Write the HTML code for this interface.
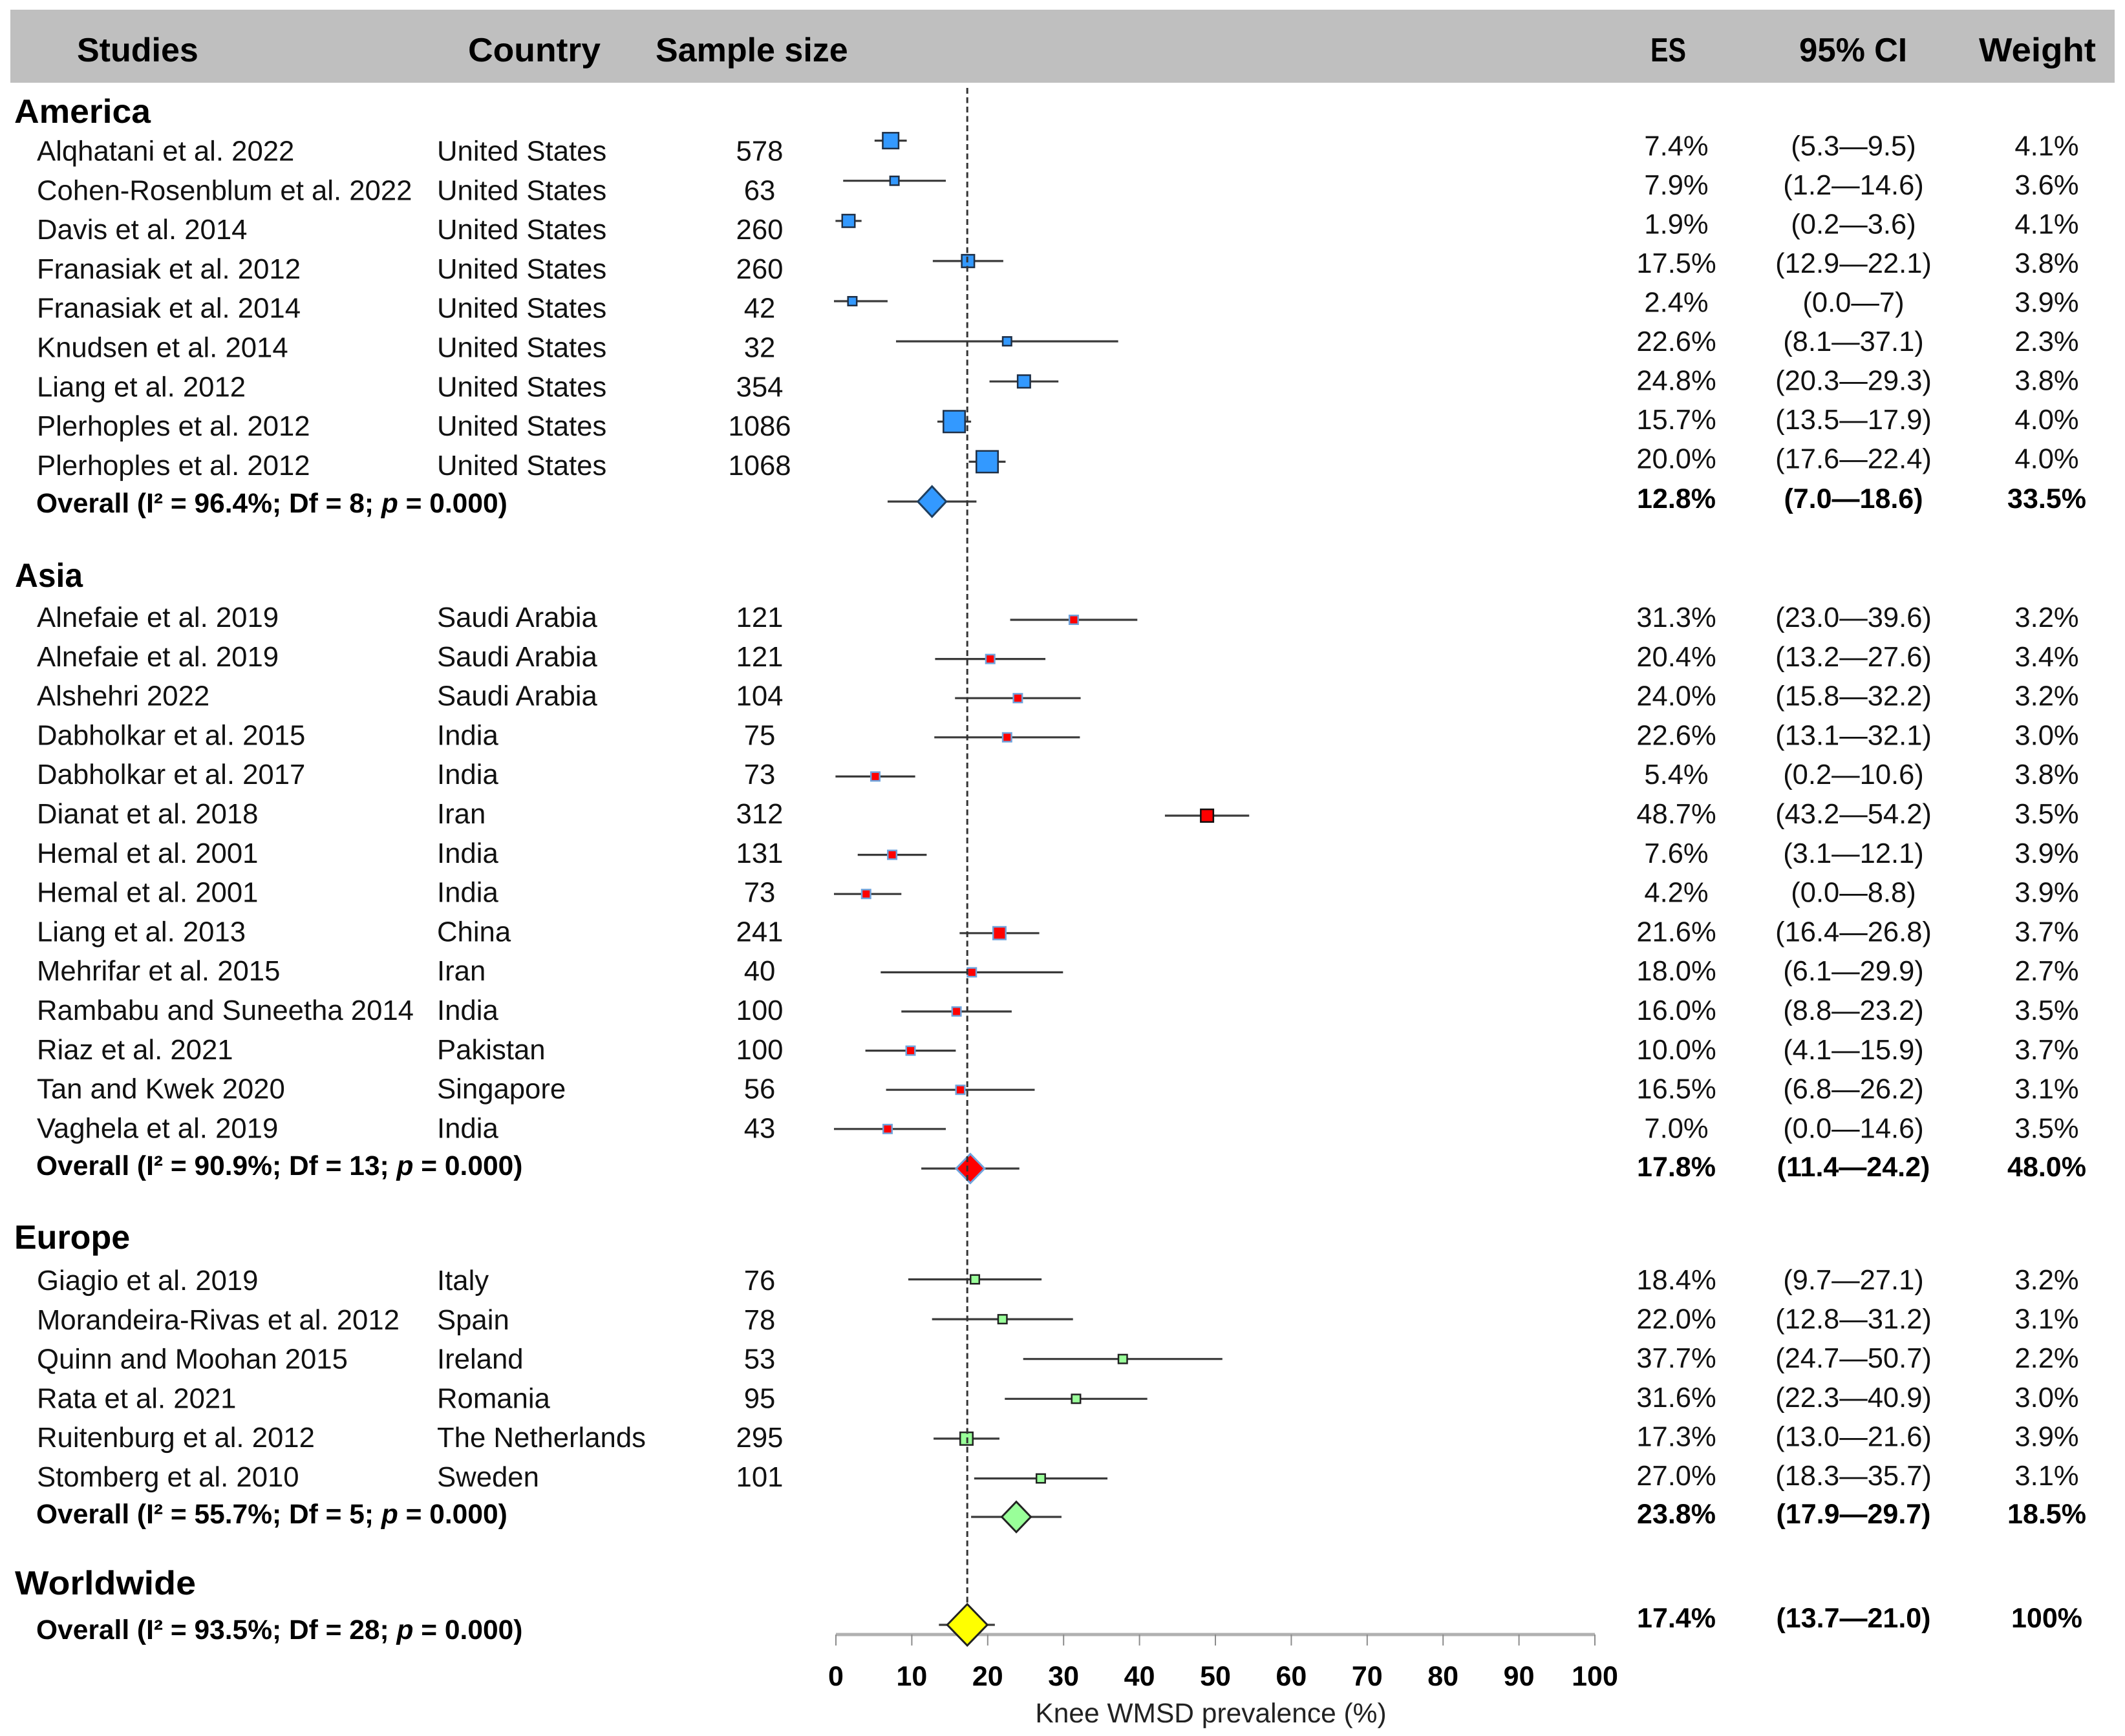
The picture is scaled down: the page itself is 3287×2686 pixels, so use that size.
<!DOCTYPE html>
<html lang="en">
<head>
<meta charset="utf-8">
<title>Knee WMSD prevalence forest plot</title>
<style>
  html, body { margin: 0; padding: 0; background: #fff; }
  svg { display: block; font-family: "Liberation Sans", sans-serif; fill: #111; text-rendering: geometricPrecision; }
  .hdr { font-size: 52px; font-weight: bold; fill: #000; }
  .region { font-size: 52px; font-weight: bold; fill: #000; }
  .body { font-size: 43.7px; fill: #111; }
  .right { font-size: 43.5px; fill: #111; text-anchor: middle; }
  .bold { font-size: 42.5px; font-weight: bold; fill: #000; }
  .bold-right { font-size: 43px; font-weight: bold; fill: #000; text-anchor: middle; }
  .mid { text-anchor: middle; }
  .tick-label { font-size: 43px; font-weight: bold; fill: #000; text-anchor: middle; }
  .axis-title { font-size: 42.5px; fill: #222; text-anchor: middle; }
</style>
</head>
<body>
<svg id="chart" xmlns="http://www.w3.org/2000/svg" width="3287" height="2686" viewBox="0 0 3287 2686">
  <rect x="16" y="15" width="3255" height="113" fill="#bfbfbf"/>
  <text class="hdr" x="119" y="95">Studies</text>
  <text class="hdr" x="724" y="95" textLength="205" lengthAdjust="spacingAndGlyphs">Country</text>
  <text class="hdr" x="1014" y="95">Sample size</text>
  <text class="hdr" x="2553" y="95" textLength="55" lengthAdjust="spacingAndGlyphs">ES</text>
  <text class="hdr" x="2783" y="95" textLength="167" lengthAdjust="spacingAndGlyphs">95% CI</text>
  <text class="hdr" x="3061" y="95" textLength="181" lengthAdjust="spacingAndGlyphs">Weight</text>
  <text class="region" x="22" y="190" textLength="211" lengthAdjust="spacingAndGlyphs">America</text>
  <text class="region" x="23" y="908" textLength="105" lengthAdjust="spacingAndGlyphs">Asia</text>
  <text class="region" x="22" y="1932">Europe</text>
  <text class="region" x="23" y="2467" textLength="280" lengthAdjust="spacingAndGlyphs">Worldwide</text>
  <text class="axis-title" x="1873" y="2665">Knee WMSD prevalence (%)</text>
  <g id="rows"></g>
  <g id="axis"></g>
  <g id="marks"></g>
</svg>
<script>
// ---- Data ----
const americaStudies = ["Alqhatani et al. 2022","Cohen-Rosenblum et al. 2022","Davis et al. 2014","Franasiak et al. 2012","Franasiak et al. 2014","Knudsen et al. 2014","Liang et al. 2012","Plerhoples et al. 2012","Plerhoples et al. 2012"];
const americaCountries = ["United States","United States","United States","United States","United States","United States","United States","United States","United States"];
const americaSamples = [578,63,260,260,42,32,354,1086,1068];
const americaES = [7.4,7.9,1.9,17.5,2.4,22.6,24.8,15.7,20.0];
const americaLow = [5.3,1.2,0.2,12.9,0.0,8.1,20.3,13.5,17.6];
const americaHigh = [9.5,14.6,3.6,22.1,7,37.1,29.3,17.9,22.4];
const americaWeights = [4.1,3.6,4.1,3.8,3.9,2.3,3.8,4.0,4.0];

const asiaStudies = ["Alnefaie et al. 2019","Alnefaie et al. 2019","Alshehri 2022","Dabholkar et al. 2015","Dabholkar et al. 2017","Dianat et al. 2018","Hemal et al. 2001","Hemal et al. 2001","Liang et al. 2013","Mehrifar et al. 2015","Rambabu and Suneetha 2014","Riaz et al. 2021","Tan and Kwek 2020","Vaghela et al. 2019"];
const asiaCountries = ["Saudi Arabia","Saudi Arabia","Saudi Arabia","India","India","Iran","India","India","China","Iran","India","Pakistan","Singapore","India"];
const asiaSamples = [121,121,104,75,73,312,131,73,241,40,100,100,56,43];
const asiaES = [31.3,20.4,24.0,22.6,5.4,48.7,7.6,4.2,21.6,18.0,16.0,10.0,16.5,7.0];
const asiaLow = [23.0,13.2,15.8,13.1,0.2,43.2,3.1,0.0,16.4,6.1,8.8,4.1,6.8,0.0];
const asiaHigh = [39.6,27.6,32.2,32.1,10.6,54.2,12.1,8.8,26.8,29.9,23.2,15.9,26.2,14.6];
const asiaWeights = [3.2,3.4,3.2,3.0,3.8,3.5,3.9,3.9,3.7,2.7,3.5,3.7,3.1,3.5];

const europeStudies = ["Giagio et al. 2019","Morandeira-Rivas et al. 2012","Quinn and Moohan 2015","Rata et al. 2021","Ruitenburg et al. 2012","Stomberg et al. 2010"];
const europeCountries = ["Italy","Spain","Ireland","Romania","The Netherlands","Sweden"];
const europeSamples = [76,78,53,95,295,101];
const europeES = [18.4,22.0,37.7,31.6,17.3,27.0];
const europeLow = [9.7,12.8,24.7,22.3,13.0,18.3];
const europeHigh = [27.1,31.2,50.7,40.9,21.6,35.7];
const europeWeights = [3.2,3.1,2.2,3.0,3.9,3.1];

const overallNames = ["america","asia","europe","worldwide"];
const overallI2 = [96.4,90.9,55.7,93.5];
const overallDf = [8,13,5,28];
const overallES = [12.8,17.8,23.8,17.4];
const overallLow = [7.0,11.4,17.9,13.7];
const overallHigh = [18.6,24.2,29.7,21.0];
const overallWeights = ["33.5%","48.0%","18.5%","100%"];

const axisTicks = [0,10,20,30,40,50,60,70,80,90,100];
const pooledEstimate = 17.4;

// ---- Layout (not data) ----
const SVGNS = "http://www.w3.org/2000/svg";
const rowsG = document.getElementById("rows");
const marksG = document.getElementById("marks");
const axisG = document.getElementById("axis");

function xMark(v) { return 1290 + 11.85 * v; }
function xAxis(v) { return 1293 + 11.74 * v; }
function markerSize(n) { return n >= 1000 ? 34 : n >= 500 ? 25 : n >= 200 ? 20 : 14; }

function make(tag, parent, name, props) {
  const el = document.createElementNS(SVGNS, tag);
  
  
  for (const k in props) el.setAttribute(k, props[k]);
  parent.appendChild(el);
  return el;
}
function label(parent, name, cls, x, y, str) {
  const t = make("text", parent, name, { class: cls, x: x, y: y });
  t.textContent = str;
  return t;
}
function ciText(lo, hi) {
  const hiStr = hi === 7 ? "7" : hi.toFixed(1);
  return "(" + lo.toFixed(1) + "\u2014" + hiStr + ")";
}
function ciLine(prefix, y, lo, hi) {
  make("line", marksG, prefix + "-ci-line", { x1: xMark(lo), x2: xMark(hi), y1: y, y2: y, stroke: "#3a3a3a", "stroke-width": 3.2 });
}
function diamond(prefix, v, y, hw, hh, fill, stroke) {
  const cx = xMark(v);
  const pts = [[cx - hw, y], [cx, y - hh], [cx + hw, y], [cx, y + hh]].map(p => p.join(",")).join(" ");
  make("polygon", marksG, prefix + "-diamond", { points: pts, fill: fill, stroke: stroke, "stroke-width": 3, "stroke-linejoin": "miter" });
}

const groups = [
  { key: "america", studies: americaStudies, countries: americaCountries, samples: americaSamples, es: americaES, low: americaLow, high: americaHigh, weights: americaWeights,
    leftY: 248.5, leftStep: 60.8, rightY: 240.5, rightStep: 60.5, markY: 217.6, markStep: 62.1,
    overallLeft: 793, overallRight: 786, overallMark: 776, fill: "#3399ff", stroke: "#1f2f45", overallStroke: "#1f3f60", hw: 22, hh: 23.5 },
  { key: "asia", studies: asiaStudies, countries: asiaCountries, samples: asiaSamples, es: asiaES, low: asiaLow, high: asiaHigh, weights: asiaWeights,
    leftY: 970, leftStep: 60.8, rightY: 970, rightStep: 60.8, markY: 959, markStep: 60.6,
    overallLeft: 1818, overallRight: 1820, overallMark: 1808, fill: "#ff0000", stroke: "#6fa3dc", overallStroke: "#6fa3dc", hw: 22, hh: 22.5 },
  { key: "europe", studies: europeStudies, countries: europeCountries, samples: europeSamples, es: europeES, low: europeLow, high: europeHigh, weights: europeWeights,
    leftY: 1996, leftStep: 60.8, rightY: 1995, rightStep: 60.6, markY: 1979.5, markStep: 61.6,
    overallLeft: 2357, overallRight: 2357, overallMark: 2347, fill: "#99ff99", stroke: "#222222", overallStroke: "#222222", hw: 22.5, hh: 23.5 }
];

// Axis first, so the worldwide diamond covers it
make("line", axisG, "x-axis-line", { x1: xAxis(axisTicks[0]), x2: xAxis(axisTicks[axisTicks.length - 1]), y1: 2529, y2: 2529, stroke: "#b0b0b0", "stroke-width": 5 });
axisTicks.forEach(v => {
  make("line", axisG, "x-tick-" + v, { x1: xAxis(v), x2: xAxis(v), y1: 2529, y2: 2546, stroke: "#8c8c8c", "stroke-width": 2 });
  label(axisG, "x-tick-label-" + v, "tick-label", xAxis(v), 2608, String(v));
});

groups.forEach((g) => {
  g.studies.forEach((study, i) => {
    const ly = g.leftY + i * g.leftStep;
    const ry = g.rightY + i * g.rightStep;
    const my = g.markY + i * g.markStep;
    const prefix = g.key + "-study-" + (i + 1);
    label(rowsG, prefix + "-name", "body", 57, ly, study);
    label(rowsG, prefix + "-country", "body", 676, ly, g.countries[i]);
    label(rowsG, prefix + "-sample-size", "body mid", 1175, ly, String(g.samples[i]));
    label(rowsG, prefix + "-es", "right", 2593, ry, g.es[i].toFixed(1) + "%");
    label(rowsG, prefix + "-ci", "right", 2867, ry, ciText(g.low[i], g.high[i]));
    label(rowsG, prefix + "-weight", "right", 3166, ry, g.weights[i].toFixed(1) + "%");
    ciLine(prefix, my, g.low[i], g.high[i]);
    const s = markerSize(g.samples[i]) - 0.5;
    const st = (g.key === "asia" && g.samples[i] === 312) ? "#111111" : g.stroke;
    make("rect", marksG, prefix + "-marker", { x: xMark(g.es[i]) - s / 2, y: my - s / 2, width: s, height: s, fill: g.fill, stroke: st, "stroke-width": 2.5 });
  });
});

function overallRow(idx, leftY, rightY, markY, hw, hh, fill, stroke) {
  const prefix = overallNames[idx] + "-overall";
  const t = make("text", rowsG, prefix + "-label", { class: "bold", x: 56, y: leftY });
  t.appendChild(document.createTextNode("Overall (I\u00B2 = " + overallI2[idx].toFixed(1) + "%; Df = " + overallDf[idx] + "; "));
  const p = document.createElementNS(SVGNS, "tspan");
  p.setAttribute('font-style', 'italic');
  
  
  p.textContent = "p";
  t.appendChild(p);
  t.appendChild(document.createTextNode(" = 0.000)"));
  label(rowsG, prefix + "-es", "bold-right", 2593, rightY, overallES[idx].toFixed(1) + "%");
  label(rowsG, prefix + "-ci", "bold-right", 2867, rightY, "(" + overallLow[idx].toFixed(1) + "\u2014" + overallHigh[idx].toFixed(1) + ")");
  label(rowsG, prefix + "-weight", "bold-right", 3166, rightY, overallWeights[idx]);
  ciLine(prefix, markY, overallLow[idx], overallHigh[idx]);
  diamond(prefix, overallES[idx], markY, hw, hh, fill, stroke);
}
groups.forEach((g, gi) => overallRow(gi, g.overallLeft, g.overallRight, g.overallMark, g.hw, g.hh, g.fill, g.overallStroke));

// Reference line at the pooled estimate, then the worldwide row on top of it
make("line", marksG, "pooled-estimate-dashed-line", { x1: xMark(pooledEstimate), x2: xMark(pooledEstimate), y1: 136, y2: 2483, stroke: "#333333", "stroke-width": 3, "stroke-dasharray": "9 5.5" });
overallRow(3, 2536, 2518, 2514, 31, 32, "#ffff00", "#222222");
</script>
</body>
</html>
